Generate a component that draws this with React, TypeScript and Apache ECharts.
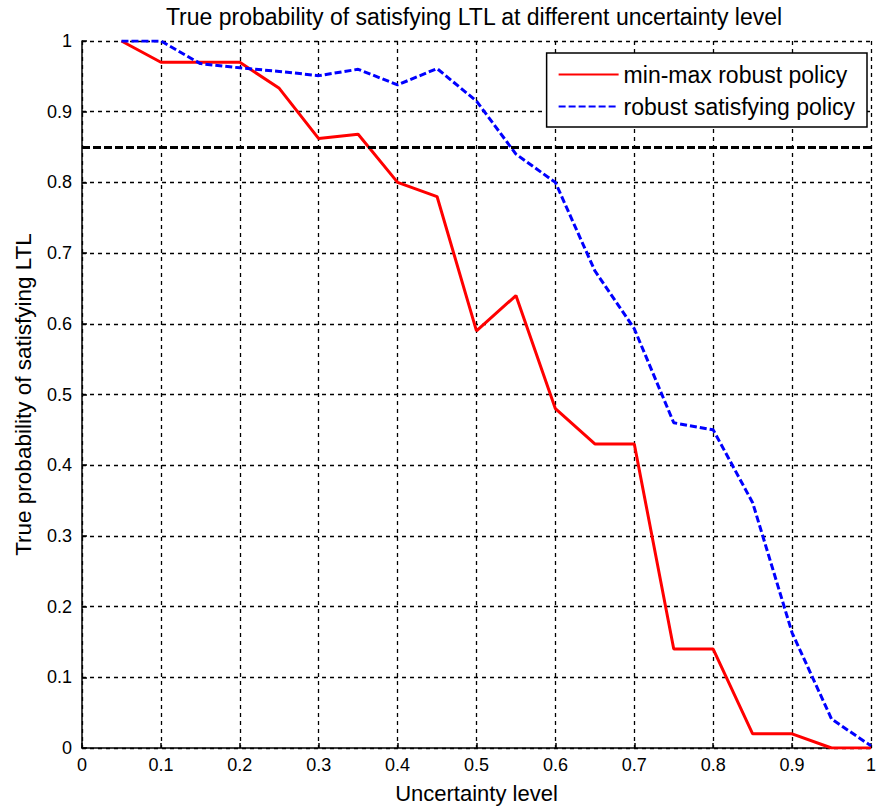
import React, { useEffect, useRef } from "react";
import * as echarts from "echarts";

const TITLE = "True probability of satisfying LTL at different uncertainty level";
const X_NAME = "Uncertainty level";
const Y_NAME = "True probability of satisfying LTL";
const SERIES_NAMES = ["min-max robust policy", "robust satisfying policy"];

const UNCERTAINTY = [0.05, 0.1, 0.15, 0.2, 0.25, 0.3, 0.35, 0.4, 0.45, 0.5, 0.55, 0.6, 0.65, 0.7, 0.75, 0.8, 0.85, 0.9, 0.95, 1.0];
const MINMAX = [1.0, 0.97, 0.97, 0.97, 0.933, 0.862, 0.868, 0.8, 0.78, 0.59, 0.64, 0.48, 0.43, 0.43, 0.14, 0.14, 0.02, 0.02, 0.0, 0.0];
const SATISFYING = [1.0, 1.0, 0.968, 0.962, 0.957, 0.951, 0.96, 0.938, 0.961, 0.915, 0.84, 0.8, 0.675, 0.593, 0.46, 0.45, 0.347, 0.163, 0.041, 0.003];
const THRESHOLD = 0.85;

const FONT = "'Liberation Sans', Arial, Helvetica, sans-serif";

export default function App() {
  const ref = useRef<HTMLDivElement>(null);
  useEffect(() => {
    if (!ref.current) return;
    const chart = echarts.init(ref.current, undefined, { renderer: "svg" });
    const pair = (ys: number[]) => UNCERTAINTY.map((x, i) => [x, ys[i]]);
    const gridLine = { show: true, lineStyle: { color: "#000", type: [4, 4] as any, width: 1.3 } };
    const axisLine = { show: true, lineStyle: { color: "#000", width: 1.5 } };
    chart.setOption({
      animation: false,
      backgroundColor: "#fff",
      textStyle: { fontFamily: FONT },
      title: {
        text: TITLE,
        left: 469,
        top: 0,
        textAlign: "center",
        textStyle: { fontFamily: FONT, fontSize: 23, fontWeight: "normal", color: "#000" },
      },
      legend: {
        orient: "vertical",
        right: 12,
        top: 53,
        itemWidth: 60,
        itemHeight: 20,
        itemGap: 9,
        padding: [10, 12, 9, 11],
        borderColor: "#000",
        borderWidth: 1.5,
        backgroundColor: "#fff",
        itemStyle: { opacity: 0 },
        data: SERIES_NAMES,
        textStyle: { fontFamily: FONT, fontSize: 23, color: "#000" },
      },
      grid: { left: 82, right: 6, top: 41, bottom: 60 },
      xAxis: {
        type: "value",
        min: 0,
        max: 1,
        interval: 0.1,
        name: X_NAME,
        nameLocation: "middle",
        nameGap: 34,
        nameTextStyle: { fontFamily: FONT, fontSize: 22, color: "#000" },
        axisLine,
        axisTick: { show: true, inside: true, length: 5, lineStyle: { color: "#000", width: 1.5 } },
        axisLabel: { fontFamily: FONT, fontSize: 18, color: "#000", margin: 8 },
        splitLine: gridLine,
      },
      yAxis: {
        type: "value",
        min: 0,
        max: 1,
        interval: 0.1,
        name: Y_NAME,
        nameLocation: "middle",
        nameGap: 47,
        nameTextStyle: { fontFamily: FONT, fontSize: 22.5, color: "#000" },
        axisLine,
        axisTick: { show: true, inside: true, length: 5, lineStyle: { color: "#000", width: 1.5 } },
        axisLabel: { fontFamily: FONT, fontSize: 18, color: "#000", margin: 10 },
        splitLine: gridLine,
      },
      series: [
        {
          name: SERIES_NAMES[0],
          type: "line",
          data: pair(MINMAX),
          symbol: "none",
          showSymbol: false,
          lineStyle: { color: "#ff0000", width: 3 },
          itemStyle: { color: "#ff0000" },
          z: 3,
          markLine: {
            silent: true,
            symbol: "none",
            label: { show: false },
            lineStyle: { color: "#000", width: 3, type: [8, 3] as any },
            data: [{ yAxis: THRESHOLD }],
          },
        },
        {
          name: SERIES_NAMES[1],
          type: "line",
          data: pair(SATISFYING),
          symbol: "none",
          showSymbol: false,
          lineStyle: { color: "#0000ff", width: 3, type: [7, 3] as any },
          itemStyle: { color: "#0000ff" },
          z: 4,
        },
      ],
    });
    return () => chart.dispose();
  }, []);
  return <div ref={ref} style={{ position: "fixed", left: 0, top: 0, width: 879, height: 809 }} />;
}
